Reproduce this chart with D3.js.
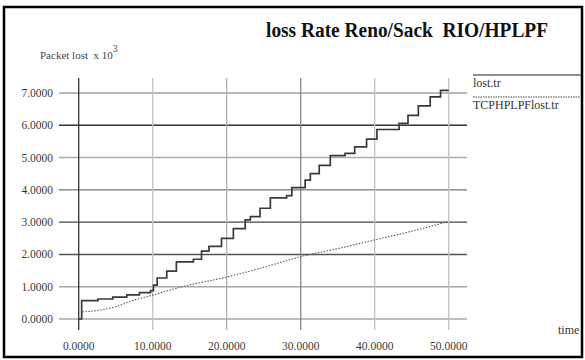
<!DOCTYPE html>
<html>
<head>
<meta charset="utf-8">
<script src="https://unpkg.com/d3@7/dist/d3.min.js"></script>
<style>
  body { margin: 0; background: #fff; }
</style>
</head>
<body>
<div class="container"></div>
<script>
const w = 585;
const h = 360;

// data (time, packets lost x 10^3)
const renoTimes  = [0, 0.4, 2.6, 4.6, 6.5, 8.2, 9.7, 10.1, 10.6, 11.9, 13.2, 15.5, 16.6, 17.6, 19.3, 20.9, 22.5, 23.2, 24.5, 25.9, 28.1, 28.8, 30.6, 31.3, 32.5, 34.0, 36.0, 37.3, 38.9, 40.3, 43.3, 44.5, 45.9, 47.5, 48.9, 50];
const renoValues = [0, 0.57, 0.62, 0.68, 0.75, 0.82, 0.88, 1.05, 1.27, 1.48, 1.77, 1.85, 2.1, 2.25, 2.5, 2.8, 3.07, 3.17, 3.43, 3.75, 3.82, 4.07, 4.3, 4.5, 4.76, 5.06, 5.13, 5.33, 5.57, 5.87, 6.06, 6.31, 6.6, 6.88, 7.08, 7.08];

const hplpfTimes  = [0.5, 3, 5, 7, 10, 14, 20, 25, 30, 35, 40, 45, 50];
const hplpfValues = [0.22, 0.28, 0.38, 0.55, 0.74, 1.0, 1.3, 1.6, 1.93, 2.18, 2.45, 2.72, 3.02];

const xTicks = [0, 10, 20, 30, 40, 50];
const yTicks = [0, 1, 2, 3, 4, 5, 6, 7];
const legendNames = ["lost.tr", "TCPHPLPFlost.tr"];

// the scan has uneven grid line tones
const hGridColor = ["#a8a8a8", "#a8a8a8", "#555", "#444", "#777", "#aaa", "#333", "#a0a0a0"];
const vGridColor = ["#333", "#c4c4c4", "#b0b0b0", "#888", "#c0c0c0", "#c0c0c0"];

const svg = d3.select(".container").append("svg")
    .attr("width", w)
    .attr("height", h)
    .attr("font-family", "'Liberation Serif', 'Times New Roman', serif");

// frame
svg.append("rect")
    .attr("x", 4).attr("y", 7)
    .attr("width", 578).attr("height", 350)
    .attr("fill", "none")
    .attr("stroke", "#000")
    .attr("stroke-width", 2.5);

const x = d3.scaleLinear().domain([0, 50]).range([78.7, 448.7]);
const y = d3.scaleLinear().domain([0, 7]).range([319, 93]);

// horizontal grid + ticks
svg.append("g").selectAll("line")
    .data(yTicks)
    .enter().append("line")
    .attr("x1", 59).attr("x2", 467)
    .attr("y1", d => y(d)).attr("y2", d => y(d))
    .attr("stroke", (d, i) => hGridColor[i])
    .attr("stroke-width", 1.4);

// vertical grid
svg.append("g").selectAll("line")
    .data(xTicks)
    .enter().append("line")
    .attr("x1", d => x(d)).attr("x2", d => x(d))
    .attr("y1", 78).attr("y2", 330)
    .attr("stroke", (d, i) => vGridColor[i])
    .attr("stroke-width", 1.3);

// tick labels
svg.append("g").selectAll("text")
    .data(yTicks)
    .enter().append("text")
    .attr("x", 53)
    .attr("y", d => y(d) + 4)
    .attr("text-anchor", "end")
    .attr("font-size", 11.5)
    .attr("fill", "#3a3a3a")
    .text(d => d3.format(".4f")(d));

svg.append("g").selectAll("text")
    .data(xTicks)
    .enter().append("text")
    .attr("x", d => x(d))
    .attr("y", 350)
    .attr("text-anchor", "middle")
    .attr("font-size", 11.5)
    .attr("fill", "#3a3a3a")
    .text(d => d3.format(".4f")(d));

// series
const reno = renoTimes.map((t, i) => [t, renoValues[i]]);
const hplpf = hplpfTimes.map((t, i) => [t, hplpfValues[i]]);

svg.append("path")
    .datum(reno)
    .attr("fill", "none")
    .attr("stroke", "#3a3a3a")
    .attr("stroke-width", 1.7)
    .attr("d", d3.line().x(d => x(d[0])).y(d => y(d[1])).curve(d3.curveStepAfter));

svg.append("path")
    .datum(hplpf)
    .attr("fill", "none")
    .attr("stroke", "#555")
    .attr("stroke-width", 1.1)
    .attr("stroke-dasharray", "1.5,1.5")
    .attr("d", d3.line().x(d => x(d[0])).y(d => y(d[1])).curve(d3.curveMonotoneX));

// title and axis labels
svg.append("text")
    .attr("x", 266).attr("y", 37)
    .attr("font-size", 20)
    .attr("font-weight", "bold")
    .attr("fill", "#111")
    .attr("textLength", 282)
    .attr("lengthAdjust", "spacingAndGlyphs")
    .text("loss Rate Reno/Sack\u00a0\u00a0RIO/HPLPF");

const ylab = svg.append("text")
    .attr("x", 40).attr("y", 59)
    .attr("font-size", 11)
    .attr("fill", "#444");
ylab.append("tspan").text("Packet lost\u00a0\u00a0x 10");
ylab.append("tspan").attr("dy", -7).attr("font-size", 9.5).text("3");

svg.append("text")
    .attr("x", 558).attr("y", 334)
    .attr("font-size", 12)
    .attr("fill", "#333")
    .text("time");

// legend
const legend = svg.append("g").attr("transform", "translate(473,0)");
legend.append("line")
    .attr("x1", 0).attr("x2", 109).attr("y1", 75).attr("y2", 75)
    .attr("stroke", "#222").attr("stroke-width", 1.2);
legend.append("line")
    .attr("x1", 0).attr("x2", 107).attr("y1", 97).attr("y2", 97)
    .attr("stroke", "#444").attr("stroke-width", 1.2)
    .attr("stroke-dasharray", "1.5,1");
legend.selectAll("text.name")
    .data(legendNames)
    .enter().append("text")
    .attr("class", "name")
    .attr("x", 0)
    .attr("y", (d, i) => 87 + i * 22)
    .attr("font-size", 12)
    .attr("fill", "#333")
    .text(d => d);
</script>
</body>
</html>
